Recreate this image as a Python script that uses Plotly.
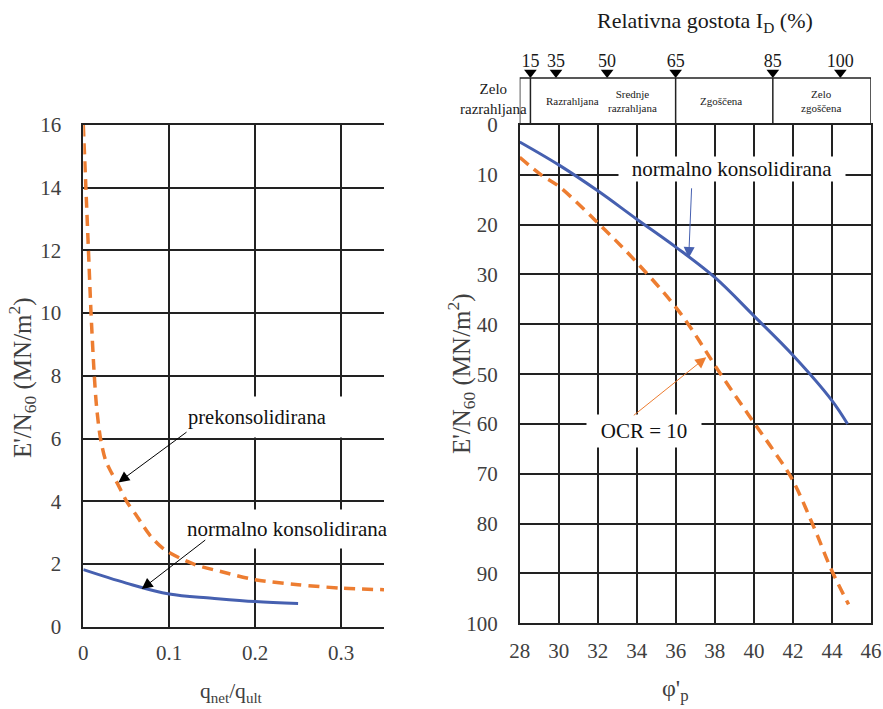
import plotly.graph_objects as go

W, H = 883, 709

# ---------------- data ----------------
# Left chart: E'/N60 vs q_net/q_ult
q_ratio_nc = [0, 0.05, 0.1, 0.15, 0.2, 0.25]
e_n60_nc_left = [1.82, 1.39, 1.04, 0.91, 0.80, 0.74]
q_ratio_oc = [0, 0.003, 0.006, 0.009, 0.0128, 0.0155, 0.02, 0.026, 0.033, 0.041,
              0.0504, 0.063, 0.078, 0.095, 0.128, 0.16, 0.2, 0.25, 0.3, 0.35]
e_n60_oc_left = [16, 14, 12, 10, 8, 7, 6, 5.3, 4.9, 4.5,
                 4.0, 3.5, 2.9, 2.45, 2.0, 1.76, 1.5, 1.34, 1.23, 1.18]

# Right chart: E'/N60 vs phi'_p
phi_nc = [28, 30, 32, 34, 36, 38, 40, 42, 44, 44.8]
e_nc_right = [3.4, 8.0, 13.2, 18.9, 24.5, 30.6, 38.3, 46.2, 55.3, 60]
phi_oc = [28, 29.1, 30, 32.1, 34, 36.2, 38.3, 40.05, 41.0, 41.95, 43.05, 44.0, 44.85]
e_oc_right = [6.5, 10, 12.3, 20, 27.6, 37.6, 50, 60, 65.3, 71, 80.5, 89.5, 96.2]

# Relative density scale (I_D %) and its position on the phi' axis
id_values = [15, 35, 50, 65, 85, 100]
id_phi = [28.55, 29.86, 32.48, 35.99, 40.97, 44.43]
zone_labels = ["Razrahljana", "Srednje<br>razrahljana", "Zgoščena", "Zelo<br>zgoščena"]
zone_phi = [30.71, 33.8, 38.33, 43.44]
zone_first_label = "Zelo<br>razrahljana"
zone_boundaries_id = [15, 65, 85]

left_xticks = [0, 0.1, 0.2, 0.3]
left_yticks = list(range(0, 17, 2))
right_xticks = list(range(28, 47, 2))
right_yticks = list(range(0, 101, 10))

# ---------------- style ----------------
FONT = "Liberation Serif"
BLUE = "#4660B0"
ORANGE = "#ED7D31"
GRID = "#222222"
TICK = "#404040"


def px(x):
    return x / W


def py(y):
    return 1 - y / H


fig = go.Figure()

fig.add_trace(go.Scatter(x=q_ratio_oc, y=e_n60_oc_left, mode="lines",
                         line=dict(color=ORANGE, width=3.5, dash="11px,7px", shape="spline", smoothing=0.8),
                         xaxis="x", yaxis="y", showlegend=False))
fig.add_trace(go.Scatter(x=q_ratio_nc, y=e_n60_nc_left, mode="lines",
                         line=dict(color=BLUE, width=3, shape="spline"),
                         xaxis="x", yaxis="y", showlegend=False))
fig.add_trace(go.Scatter(x=phi_nc, y=e_nc_right, mode="lines",
                         line=dict(color=BLUE, width=3, shape="spline"),
                         xaxis="x2", yaxis="y2", showlegend=False))
fig.add_trace(go.Scatter(x=phi_oc, y=e_oc_right, mode="lines",
                         line=dict(color=ORANGE, width=3.5, dash="11px,7px", shape="spline"),
                         xaxis="x2", yaxis="y2", showlegend=False))

# Relative density triangles + labels (y3 is a pixel-like band above the right chart)
fig.add_trace(go.Scatter(x=id_phi, y=[52.5] * len(id_phi), mode="markers",
                         marker=dict(symbol="triangle-down", size=11, color="black"),
                         xaxis="x3", yaxis="y3", showlegend=False, cliponaxis=False))
fig.add_trace(go.Scatter(x=id_phi, y=[63] * len(id_phi), mode="text",
                         text=[str(v) for v in id_values],
                         textfont=dict(family=FONT, size=18, color="#1a1a1a"),
                         xaxis="x3", yaxis="y3", showlegend=False, cliponaxis=False))

axis_common = dict(showgrid=True, gridcolor=GRID, gridwidth=1.5, zeroline=False,
                   showline=True, linecolor=GRID, linewidth=1.5, automargin=False,
                   ticklabeloverflow="allow",
                   tickfont=dict(family=FONT, size=21, color=TICK), ticks="")

fig.update_layout(
    width=W, height=H,
    margin=dict(l=0, r=0, t=0, b=0, pad=0, autoexpand=False),
    paper_bgcolor="white", plot_bgcolor="white",
    font=dict(family=FONT),
    xaxis=dict(domain=[px(83.3), px(384)], range=[0, 0.35], tickvals=left_xticks,
               ticktext=[str(v) for v in left_xticks], mirror=True,
               ticklabelstandoff=6, anchor="y", **axis_common),
    yaxis=dict(domain=[py(626.7), py(125)], range=[0, 16], tickvals=left_yticks,
               mirror=False, ticklabelstandoff=16, anchor="x", **axis_common),
    xaxis2=dict(domain=[px(519.7), px(871)], range=[28, 46], tickvals=right_xticks,
                mirror=True, ticklabelstandoff=8, anchor="y2", **axis_common),
    yaxis2=dict(domain=[py(623.3), py(125)], range=[100, 0], tickvals=right_yticks,
                mirror=True, ticklabelstandoff=16, anchor="x2", **axis_common),
    xaxis3=dict(domain=[px(519.7), px(871)], range=[28, 46], visible=False, anchor="y3",
                automargin=False),
    yaxis3=dict(domain=[py(125), py(40)], range=[0, 85], visible=False, anchor="x3",
                automargin=False),
)

# Band box for relative density zones
shapes = [dict(type="rect", xref="x3", yref="y3", x0=28, x1=46, y0=0, y1=47,
               line=dict(color=GRID, width=1.5), fillcolor="rgba(0,0,0,0)")]
for idv in zone_boundaries_id:
    xb = id_phi[id_values.index(idv)]
    shapes.append(dict(type="line", xref="x3", yref="y3", x0=xb, x1=xb, y0=0, y1=47,
                       line=dict(color=GRID, width=1.5)))
fig.update_layout(shapes=shapes)


def paper_text(x, y, text, size, color, angle=0):
    return dict(x=px(x), y=py(y), xref="paper", yref="paper", text=text, showarrow=False,
                xanchor="center", yanchor="middle", textangle=angle, align="center",
                font=dict(family=FONT, size=size, color=color))


ann = [paper_text(493, 99, zone_first_label, 15, "#1a1a1a")]
for lab, xz in zip(zone_labels, zone_phi):
    ann.append(dict(x=xz, y=24, xref="x3", yref="y3", text=lab, showarrow=False,
                    xanchor="center", yanchor="middle",
                    font=dict(family=FONT, size=11, color="#1a1a1a"), align="center"))

# titles
ann.append(paper_text(705, 22, "Relativna gostota I<sub>D</sub> (%)", 22, "#1a1a1a"))
ann.append(paper_text(22, 378, "E'/N<sub>60</sub> (MN/m<sup>2</sup>)", 25, TICK, -90))
ann.append(paper_text(461, 374, "E'/N<sub>60</sub> (MN/m<sup>2</sup>)", 25, TICK, -90))
ann.append(paper_text(231, 692, "q<sub>net</sub>/q<sub>ult</sub>", 21.5, TICK))
ann.append(paper_text(675, 690, "φ'<sub>p</sub>", 24, TICK))

# left chart labels + arrows
ann.append(dict(x=0.215, y=6.69, xref="x", yref="y", text="prekonsolidirana",
                showarrow=False, bgcolor="white", width=160, height=38, align="left",
                xanchor="center", yanchor="middle",
                font=dict(family=FONT, size=20.5, color="#111")))
ann.append(dict(x=0.0408, y=4.6, ax=0.1219, ay=6.24, xref="x", yref="y", axref="x", ayref="y",
                text="", showarrow=True, arrowhead=2, arrowsize=2.2, arrowwidth=1,
                arrowcolor="black"))
ann.append(dict(x=0.2372, y=3.11, xref="x", yref="y", text="normalno konsolidirana",
                showarrow=False, bgcolor="white", width=200, height=36, align="left",
                xanchor="center", yanchor="middle",
                font=dict(family=FONT, size=21, color="#111")))
ann.append(dict(x=0.068, y=1.20, ax=0.1437, ay=2.80, xref="x", yref="y", axref="x", ayref="y",
                text="", showarrow=True, arrowhead=2, arrowsize=2.2, arrowwidth=1,
                arrowcolor="black"))

# right chart labels + arrows
ann.append(dict(x=38.9, y=8.9, xref="x2", yref="y2", text="normalno konsolidirana",
                showarrow=False, bgcolor="white", width=224, height=22,
                xanchor="center", yanchor="middle",
                font=dict(family=FONT, size=21, color="#111")))
ann.append(dict(x=36.66, y=26.7, ax=36.81, ay=12.4, xref="x2", yref="y2", axref="x2", ayref="y2",
                text="", showarrow=True, arrowhead=2, arrowsize=2.2, arrowwidth=1,
                arrowcolor=BLUE))
ann.append(dict(x=34.36, y=61.4, xref="x2", yref="y2", text="OCR = 10",
                showarrow=False, bgcolor="white", width=112, height=30,
                xanchor="center", yanchor="middle",
                font=dict(family=FONT, size=21, color="#111")))
ann.append(dict(x=37.56, y=46.6, ax=33.77, ay=58.5, xref="x2", yref="y2", axref="x2", ayref="y2",
                text="", showarrow=True, arrowhead=2, arrowsize=2.2, arrowwidth=1,
                arrowcolor=ORANGE))

fig.update_layout(annotations=ann)

# remove the default page margin so the 883x709 figure fills the window exactly
fig.write_html("out.html",
               config={"displayModeBar": False},
               post_script="document.body.style.margin='0';document.body.style.overflow='hidden';")
